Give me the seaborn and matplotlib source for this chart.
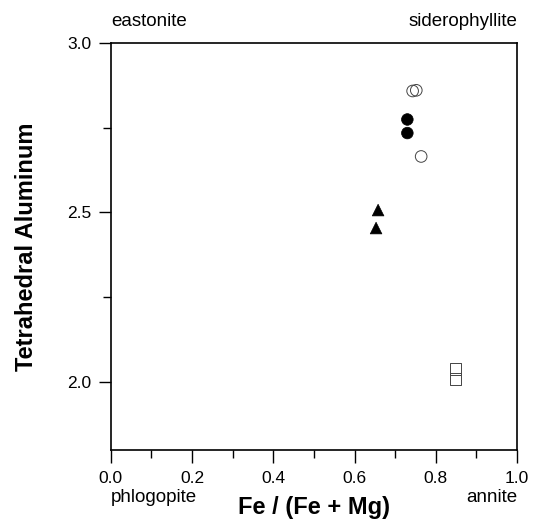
# encoding=utf-8

import pandas as pd
import seaborn as sns
import matplotlib.pyplot as plt
from matplotlib.ticker import MultipleLocator

# biotite composition data
open_circle_x = [0.743, 0.752, 0.764]
open_circle_y = [2.858, 2.860, 2.665]
filled_circle_x = [0.730, 0.730]
filled_circle_y = [2.774, 2.734]
triangle_x = [0.658, 0.653]
triangle_y = [2.507, 2.454]
square_x = [0.849, 0.849]
square_y = [2.038, 2.009]

sns.set_style("white")
plt.rcParams['font.family'] = ['Liberation Sans', 'DejaVu Sans']
plt.rcParams['text.color'] = 'black'
plt.rcParams['axes.labelcolor'] = 'black'
plt.rcParams['xtick.color'] = 'black'
plt.rcParams['ytick.color'] = 'black'

fig = plt.figure(figsize=(5.33, 5.22), dpi=100)
ax = fig.add_axes([0.208, 0.138, 0.762, 0.780])

# filled symbols
filled = pd.DataFrame({'x': filled_circle_x + triangle_x,
                       'y': filled_circle_y + triangle_y,
                       'kind': ['circle'] * 2 + ['triangle'] * 2})
sns.scatterplot(data=filled, x='x', y='y', style='kind',
                markers={'circle': 'o', 'triangle': '^'},
                color='black', s=70, edgecolor='black', linewidth=0.5,
                legend=False, ax=ax)

# open symbols
hollow = pd.DataFrame({'x': open_circle_x + square_x,
                       'y': open_circle_y + square_y,
                       'kind': ['circle'] * 3 + ['square'] * 2})
sns.scatterplot(data=hollow, x='x', y='y', style='kind',
                markers={'circle': 'o', 'square': 's'},
                facecolor='none', edgecolor='#444444', s=70, linewidth=0.7,
                legend=False, ax=ax)

ax.set_xlim(0.0, 1.0)
ax.set_ylim(1.8, 3.0)
ax.xaxis.set_major_locator(MultipleLocator(0.2))
ax.xaxis.set_minor_locator(MultipleLocator(0.1))
ax.yaxis.set_major_locator(MultipleLocator(0.5))
ax.yaxis.set_minor_locator(MultipleLocator(0.25))
ax.set_yticks([2.0, 2.5, 3.0])
ax.tick_params(axis='both', which='major', direction='out', length=9, width=1,
               colors='black', labelsize=12.5, pad=6, bottom=True, left=True)
ax.tick_params(axis='both', which='minor', direction='out', length=6, width=1,
               colors='black', bottom=True, left=True)
ax.tick_params(axis='y', which='major', pad=5)
for spine in ax.spines.values():
    spine.set_color('black')
    spine.set_linewidth(1.2)

ax.set_xlabel('Fe / (Fe + Mg)', fontsize=17, fontweight='bold')
ax.set_ylabel('Tetrahedral Aluminum', fontsize=17, fontweight='bold')
ax.xaxis.set_label_coords(0.5, -0.112)
ax.yaxis.set_label_coords(-0.18, 0.5)

# end-member names at the corners
ax.text(0.0, 1.042, 'eastonite', transform=ax.transAxes, ha='left', va='baseline', fontsize=13.5)
ax.text(1.0, 1.042, 'siderophyllite', transform=ax.transAxes, ha='right', va='baseline', fontsize=13.5)
ax.text(0.0, -0.128, 'phlogopite', transform=ax.transAxes, ha='left', va='baseline', fontsize=13.5)
ax.text(1.0, -0.128, 'annite', transform=ax.transAxes, ha='right', va='baseline', fontsize=13.5)

plt.savefig('out.png', dpi=100)
